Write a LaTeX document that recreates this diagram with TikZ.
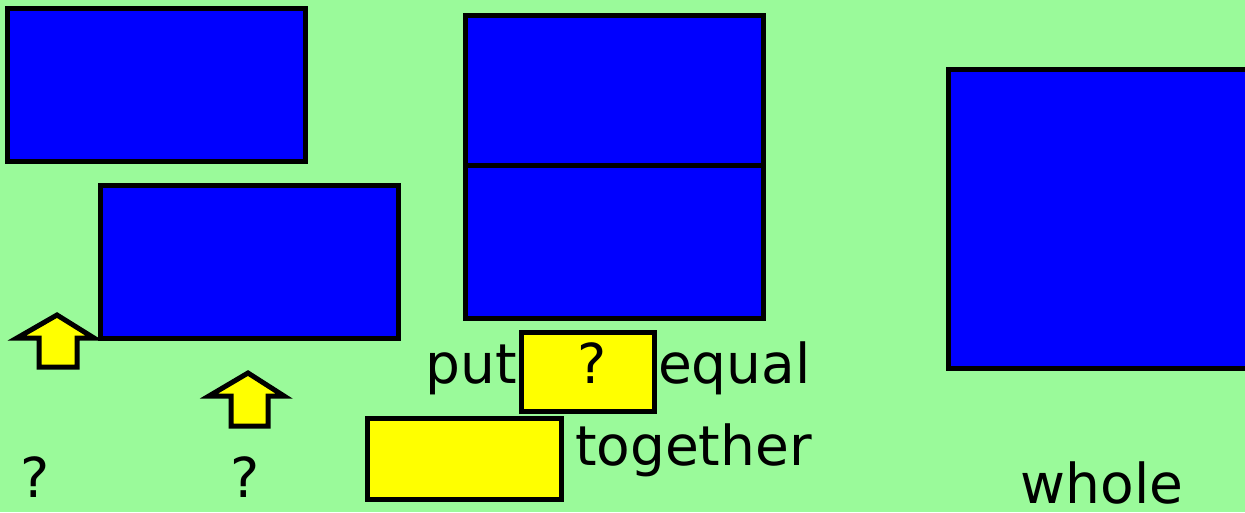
\documentclass[tikz,border=0pt]{standalone}
\usepackage{fontspec}
\setmainfont{DejaVu Sans}
\definecolor{bg}{RGB}{154,250,154}
\definecolor{bluefill}{RGB}{0,0,255}
\definecolor{yellowfill}{RGB}{255,255,0}
\begin{document}
\begin{tikzpicture}[x=1pt,y=-1pt,
  bluebox/.style={draw=black,line width=5pt,fill=bluefill,inner sep=0pt,outer sep=0pt},
  yellowbox/.style={draw=black,line width=5pt,fill=yellowfill,inner sep=0pt,outer sep=0pt},
  uparrow/.style={draw=black,line width=5pt,fill=yellowfill,line join=miter},
  lbl/.style={inner sep=0pt,outer sep=0pt,font=\fontsize{55}{60}\selectfont,text=black}]
\fill[bg] (0,0) rectangle (1245,512);
\useasboundingbox (0,0) rectangle (1245,512);
% blue rectangles
\node[bluebox,minimum width=298pt,minimum height=153pt] (a) at (156,84.5) {};
\node[bluebox,minimum width=298pt,minimum height=153pt] (b) at (249,261.5) {};
\node[bluebox,minimum width=298pt,minimum height=150pt] (c) at (614,90) {};
\node[bluebox,minimum width=298pt,minimum height=153pt] (d) at (614,241.5) {};
\node[bluebox,minimum width=302pt,minimum height=299pt] (e) at (1099,218.5) {};
% yellow boxes
\node[yellowbox,minimum width=133pt,minimum height=79pt] (y1) at (587.5,371.5) {};
\node[yellowbox,minimum width=194pt,minimum height=81pt] (y2) at (464,458.5) {};
% yellow up arrows
\draw[uparrow] (57,315) -- (94,338) -- (77,338) -- (77,367) -- (39,367) -- (39,338) -- (17,338) -- cycle;
\draw[uparrow] (248,373) -- (284,396) -- (268,396) -- (268,426) -- (231,426) -- (231,396) -- (209,396) -- cycle;
% texts
\node[lbl,anchor=base east] (put) at (517,383) {put};
\node[lbl,anchor=base] (q3) at (592,383) {?};
\node[lbl,anchor=base west] (equal) at (658,383) {equal};
\node[lbl,anchor=base west] (together) at (575,465) {together};
\node[lbl,anchor=base] (whole) at (1102,503) {whole};
\node[lbl,anchor=base] (q1) at (35,497) {?};
\node[lbl,anchor=base] (q2) at (245,497) {?};
\end{tikzpicture}
\end{document}
